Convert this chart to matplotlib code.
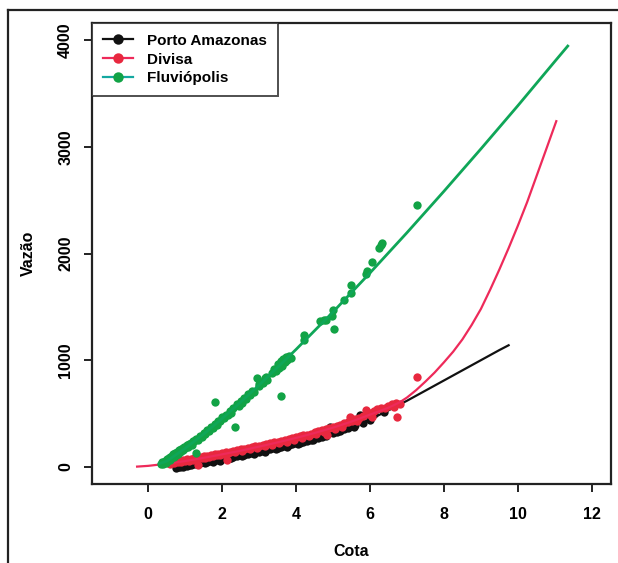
import matplotlib
matplotlib.use("Agg")
import matplotlib.pyplot as plt
from matplotlib.lines import Line2D

plt.rcParams['font.family'] = ['Liberation Sans', 'DejaVu Sans']

# ---------------- data ----------------
series_names = ["Porto Amazonas", "Divisa", "Fluviópolis"]

# Porto Amazonas (black) observed points
pa_h = [0.75, 0.8, 0.85, 0.9, 0.95, 1.0, 1.05, 1.1, 1.15, 1.2, 1.3, 1.35, 1.4, 1.5, 1.55,
        1.6, 1.7, 1.75, 1.8, 1.9, 1.95, 2.0, 2.1, 2.2, 2.25, 2.3, 2.4, 2.5, 2.55, 2.6,
        2.7, 2.8, 2.85, 2.9, 3.0, 3.1, 3.15, 3.2, 3.3, 3.4, 3.45, 3.5, 3.6, 3.7, 3.75,
        3.8, 3.9, 4.0, 4.05, 4.12, 4.2, 4.3, 4.4, 4.45, 4.57, 4.6, 4.7, 4.8, 4.93, 5.0,
        5.1, 5.2, 5.3, 5.4, 5.56, 5.6, 5.74, 5.8, 6.0, 6.1, 6.37]
pa_q = [-10, 0, -5, 10, 2, 15, 8, 22, 15, 28, 30, 25, 38, 42, 36,
        50, 55, 48, 62, 68, 60, 75, 80, 88, 80, 95, 100, 108, 100, 115,
        120, 130, 122, 138, 142, 150, 143, 160, 165, 175, 168, 182, 190, 198, 190,
        208, 212, 222, 215, 225, 238, 245, 255, 248, 285, 270, 280, 292, 378, 318,
        330, 340, 352, 365, 378, 392, 488, 410, 440, 500, 519]

# Porto Amazonas fitted rating curve
pa_curve_h = [0.75, 1, 1.5, 2, 2.5, 3, 3.5, 4, 4.5, 5, 5.5, 6, 6.5, 7, 7.5, 8, 8.5, 9, 9.5, 9.75]
pa_curve_q = [0, 12, 40, 72, 105, 142, 182, 225, 272, 325, 382, 445, 530, 620, 715, 810, 905, 1000, 1095, 1140]

# Divisa (red) observed points
dv_h = [0.55, 0.6, 0.65, 0.7, 0.75, 0.8, 0.85, 0.9, 0.95, 1.0, 1.05, 1.1, 1.15, 1.2, 1.25,
        1.3, 1.34, 1.4, 1.45, 1.5, 1.55, 1.6, 1.65, 1.7, 1.75, 1.8, 1.85, 1.9, 1.95, 2.0,
        2.05, 2.1, 2.13, 2.15, 2.2, 2.3, 2.35, 2.4, 2.5, 2.55, 2.6, 2.7, 2.75, 2.8, 2.9,
        2.95, 3.0, 3.1, 3.15, 3.2, 3.3, 3.35, 3.4, 3.5, 3.55, 3.6, 3.7, 3.75, 3.8, 3.9,
        3.95, 4.0, 4.1, 4.15, 4.2, 4.3, 4.35, 4.4, 4.5, 4.55, 4.6, 4.7, 4.75, 4.8, 4.83,
        4.9, 5.0, 5.05, 5.1, 5.2, 5.25, 5.3, 5.4, 5.45, 5.5, 5.6, 5.65, 5.7, 5.8, 5.9,
        5.95, 6.0, 6.05, 6.1, 6.2, 6.3, 6.4, 6.5, 6.6, 6.65, 6.7, 6.74, 6.8, 7.28]
dv_q = [40, 30, 45, 38, 52, 42, 60, 50, 65, 55, 72, 60, 78, 68, 85,
        75, 19, 90, 82, 98, 88, 105, 95, 112, 100, 118, 108, 125, 115, 130,
        120, 138, 66, 128, 142, 150, 138, 158, 165, 150, 172, 178, 165, 185, 192,
        178, 200, 205, 192, 212, 220, 205, 230, 238, 222, 245, 252, 238, 262, 268,
        252, 280, 288, 270, 295, 302, 288, 312, 325, 305, 335, 342, 325, 352, 300,
        362, 375, 355, 385, 395, 378, 410, 420, 471, 435, 448, 430, 462, 480, 534,
        495, 510, 470, 525, 540, 555, 548, 570, 585, 560, 595, 468, 590, 845]

# Divisa fitted rating curve
dv_curve_h = [-0.3, 0, 0.5, 1, 1.5, 2, 2.5, 3, 3.5, 4, 4.5, 5, 5.5, 6, 6.5, 6.8, 7.0, 7.25,
              7.5, 7.75, 8.0, 8.25, 8.5, 8.75, 9.0, 9.25, 9.5, 9.75, 10.0, 10.25, 10.5,
              10.75, 11.04]
dv_curve_q = [3, 10, 30, 55, 85, 118, 152, 190, 230, 272, 318, 368, 425, 490, 555, 605, 650, 720,
              800, 885, 980, 1080, 1195, 1330, 1480, 1660, 1850, 2050, 2260, 2480, 2720,
              2960, 3240]

# Fluviópolis (green) observed points
fv_h = [0.35, 0.38, 0.4, 0.42, 0.45, 0.48, 0.5, 0.52, 0.55, 0.58, 0.6, 0.62, 0.65, 0.68, 0.7,
        0.72, 0.75, 0.78, 0.8, 0.82, 0.85, 0.88, 0.9, 0.93, 0.95, 0.98, 1.0, 1.05, 1.08, 1.1,
        1.15, 1.18, 1.2, 1.25, 1.28, 1.3, 1.35, 1.4, 1.45, 1.5, 1.55, 1.6, 1.65, 1.7, 1.75,
        1.8, 1.82, 1.85, 1.9, 1.95, 2.0, 2.05, 2.1, 2.15, 2.2, 2.25, 2.3, 2.36, 2.4, 2.45,
        2.5, 2.55, 2.6, 2.65, 2.7, 2.75, 2.8, 2.85, 2.95, 3.0, 3.0, 3.05, 3.1, 3.15, 3.2,
        3.22, 3.35, 3.4, 3.45, 3.5, 3.55, 3.58, 3.6, 3.62, 3.65, 3.7, 3.72, 3.75, 3.8, 3.85,
        4.21, 4.21, 4.66, 4.75, 4.8, 4.98, 5.0, 5.02, 5.31, 5.49, 5.49, 5.88, 5.92, 6.06, 6.24,
        6.3, 6.33, 7.28]
fv_q = [30, 45, 25, 50, 60, 40, 70, 55, 85, 65, 95, 80, 100, 120, 95,
        130, 115, 140, 125, 155, 140, 165, 150, 180, 160, 190, 175, 205, 190, 215,
        225, 210, 245, 240, 128, 265, 255, 290, 285, 320, 310, 350, 340, 375, 365,
        405, 613, 395, 435, 430, 465, 455, 490, 485, 525, 510, 550, 378, 585, 570,
        615, 600, 650, 635, 680, 670, 715, 700, 833, 760, 780, 800, 790, 830, 845,
        810, 880, 920, 900, 960, 930, 660, 990, 950, 1010, 980, 1030, 1000, 1040, 1020,
        1239, 1192, 1365, 1375, 1380, 1411, 1468, 1293, 1562, 1631, 1709, 1812, 1835, 1918, 2054,
        2080, 2100, 2451]

# Fluviópolis fitted rating curve
fv_curve_h = [0.3, 0.5, 1, 1.5, 2, 2.5, 3, 3.5, 4, 5, 6, 7, 8, 9, 10, 11, 11.35]
fv_curve_q = [30, 54, 174, 308, 453, 607, 767, 933, 1101, 1452, 1818, 2195, 2583, 2980, 3385, 3800, 3944]

x_ticks = [0, 2, 4, 6, 8, 10, 12]
y_ticks = [0, 1000, 2000, 3000, 4000]

# ---------------- style ----------------
c_black = '#111111'
c_red_pt = '#E8283F'
c_red_ln = '#EE2A5A'
c_green_pt = '#12A346'
c_green_ln = '#0FA658'

fig = plt.figure(figsize=(6.18, 5.63), dpi=100)
ax = fig.add_axes([92/618, 1-484/563, (611-92)/618, (484-23)/563])

ms = 6.0
ax.plot(pa_h, pa_q, 'o', color=c_black, ms=ms, mec='none', zorder=2)
ax.plot(pa_curve_h, pa_curve_q, '-', color=c_black, lw=1.6, zorder=3)
ax.plot(dv_h, dv_q, 'o', color=c_red_pt, ms=ms, mec='none', zorder=4)
ax.plot(dv_curve_h, dv_curve_q, '-', color=c_red_ln, lw=1.6, zorder=5)
ax.plot(fv_h, fv_q, 'o', color=c_green_pt, ms=ms, mec='none', zorder=6)
ax.plot(fv_curve_h, fv_curve_q, '-', color=c_green_ln, lw=2.0, zorder=7)

ax.set_xlim(-1.52, 12.52)
ax.set_ylim(-160, 4160)
ax.set_xticks(x_ticks)
ax.set_yticks(y_ticks)
ax.set_xticklabels([str(v) for v in x_ticks], fontsize=11.5, fontweight='bold')
ax.set_yticklabels([str(v) for v in y_ticks], fontsize=11.5, fontweight='bold',
                   rotation=90, va='center')
ax.tick_params(axis='both', direction='out', length=5.5, width=1.4, color='#222222')
ax.tick_params(axis='x', pad=11)
ax.tick_params(axis='y', pad=8)
for sp in ax.spines.values():
    sp.set_linewidth(1.6)
    sp.set_color('#222222')

ax.set_xlabel('Cota', fontsize=11.5, fontweight='bold', labelpad=16)
ax.set_ylabel('Vazão', fontsize=11.5, fontweight='bold', labelpad=16)

handles = [
    Line2D([], [], color=c_black, lw=1.6, marker='o', ms=7.5, mec='none'),
    Line2D([], [], color=c_red_ln, lw=1.6, marker='o', ms=7.5, mfc=c_red_pt, mec='none'),
    Line2D([], [], color='#14A8A0', lw=1.6, marker='o', ms=7.5, mfc=c_green_pt, mec='none'),
]
leg = ax.legend(handles, series_names, loc='upper left', borderaxespad=0,
                prop={'size': 11, 'weight': 'bold'}, frameon=True, fancybox=False,
                edgecolor='#222222', handlelength=2.0, handletextpad=0.9,
                borderpad=0.7, labelspacing=0.32)
leg.get_frame().set_linewidth(1.4)
leg.set_zorder(10)

# outer figure frame (left and top lines)
fig.add_artist(Line2D([8/618, 8/618], [0, 1-10/563], transform=fig.transFigure,
                      color='#222222', lw=1.6))
fig.add_artist(Line2D([8/618, 1], [1-10/563, 1-10/563], transform=fig.transFigure,
                      color='#222222', lw=1.6))

fig.savefig('out.png', dpi=100)
